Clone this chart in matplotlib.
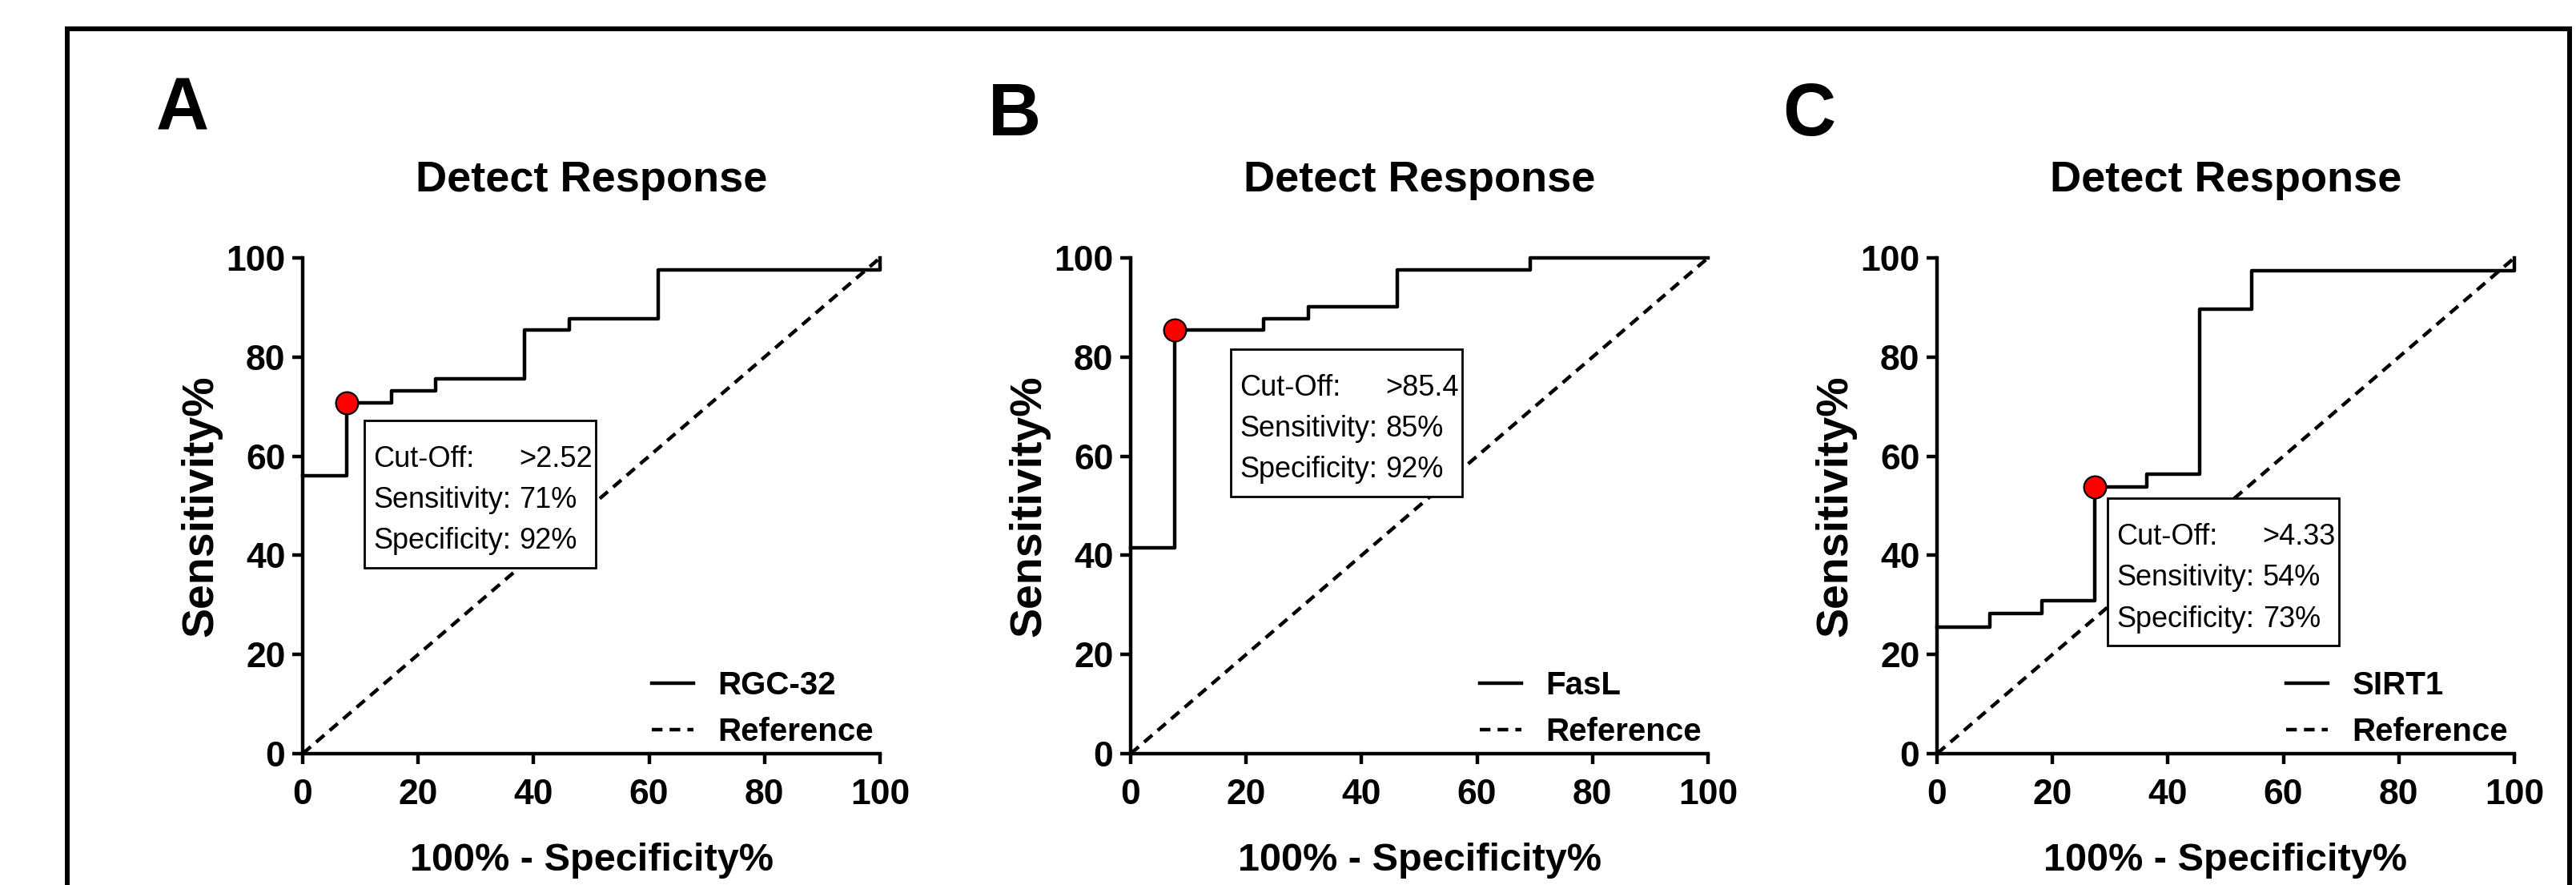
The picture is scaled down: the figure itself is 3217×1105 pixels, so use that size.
import matplotlib
matplotlib.use('Agg')
import matplotlib.pyplot as plt
from matplotlib.lines import Line2D
from matplotlib.patches import Rectangle
from matplotlib.font_manager import FontProperties

# Arial-metric font; sizes picked so text widths match the (condensed) original
font = 'Liberation Sans'

# ---- data ----
panel_letters = ['A', 'B', 'C']
marker_names = ['RGC-32', 'FasL', 'SIRT1']

# ROC corner points (100% - specificity, sensitivity), drawn as post-steps
fpr_rgc32 = [0, 7.69, 15.38, 23.08, 38.46, 46.15, 61.54, 100]
sens_rgc32 = [56.1, 70.7, 73.2, 75.6, 85.4, 87.8, 97.6, 100]
fpr_fasl = [0, 7.69, 23.08, 30.77, 46.15, 69.23, 100]
sens_fasl = [41.5, 85.4, 87.8, 90.2, 97.6, 100, 100]
fpr_sirt1 = [0, 9.09, 18.18, 27.27, 36.36, 45.45, 54.55, 100]
sens_sirt1 = [25.6, 28.2, 30.8, 53.8, 56.4, 89.7, 97.4, 100]

fpr_all = [fpr_rgc32, fpr_fasl, fpr_sirt1]
sens_all = [sens_rgc32, sens_fasl, sens_sirt1]

# cut-off points (red dots) and box texts
cutoff_fpr = [7.69, 7.69, 27.27]
cutoff_sens = [70.7, 85.4, 53.8]
cutoff_text = ['>2.52', '>85.4', '>4.33']
sens_text = ['71%', '85%', '54%']
spec_text = ['92%', '92%', '73%']

ref_line = [0, 100]
ticks = [0, 20, 40, 60, 80, 100]

# ---- layout (pixels of the 3217x1105 picture) ----
W, H = 3217, 1105
ax_left_px = [378, 1412, 2419]
ax_w_px, ax_h_px, ax_bottom_px = 721, 619, 941
box_topleft = [(10.7, 67.2), (17.4, 81.6), (29.6, 51.5)]
box_w, box_h = 40.0, 29.7
letter_px = [(195, 161), (1234, 169), (2226, 169)]
lw = 3.2

fig = plt.figure(figsize=(W / 100, H / 100), dpi=100)

# outer frame
lw_frame = 4.3
fx0, fx1, fy1 = 84 / W, 3209 / W, 1 - 36 / H
fig.add_artist(Line2D([fx0, fx0], [0, fy1], color='k', lw=lw_frame))
fig.add_artist(Line2D([fx0, fx1], [fy1, fy1], color='k', lw=lw_frame))
fig.add_artist(Line2D([fx1, fx1], [0, fy1], color='k', lw=lw_frame))

for i in range(3):
    ax = fig.add_axes([ax_left_px[i] / W, 1 - ax_bottom_px / H, ax_w_px / W, ax_h_px / H])

    ax.step(fpr_all[i], sens_all[i], where='post', color='k', lw=lw,
            clip_on=False, zorder=3, label=marker_names[i])
    ax.plot(ref_line, ref_line, color='k', lw=lw, ls=(0, (3.0, 2.0)),
            clip_on=False, zorder=2, label='Reference')
    ax.plot(cutoff_fpr[i], cutoff_sens[i], 'o', ms=20, mfc='red', mec='k',
            mew=1.6, clip_on=False, zorder=6)

    # annotation box
    bx, by = box_topleft[i]
    ax.add_patch(Rectangle((bx, by - box_h), box_w, box_h, facecolor='white',
                           edgecolor='k', lw=2.0, zorder=4))
    rows = [('Cut-Off:', cutoff_text[i]), ('Sensitivity:', sens_text[i]),
            ('Specificity:', spec_text[i])]
    for j, (lab, val) in enumerate(rows):
        yy = by - 9.4 - j * 8.25
        ax.text(bx + 1.5, yy, lab, fontsize=26, family=font, va='baseline', zorder=5)
        ax.text(bx + 26.8, yy, val, fontsize=26, family=font, va='baseline', zorder=5)

    ax.set_xlim(0, 100)
    ax.set_ylim(0, 100)
    ax.set_xticks(ticks)
    ax.set_yticks(ticks)
    for s in ['top', 'right']:
        ax.spines[s].set_visible(False)
    for s in ['left', 'bottom']:
        ax.spines[s].set_linewidth(lw)
    ax.tick_params(length=9.5, width=lw, labelsize=32)
    ax.tick_params(axis='x', pad=13)
    ax.tick_params(axis='y', pad=6)
    for lbl in ax.get_xticklabels() + ax.get_yticklabels():
        lbl.set_fontfamily(font)
        lbl.set_fontweight('bold')

    ax.set_title('Detect Response', fontsize=39, fontweight='bold', family=font, pad=60)
    ax.set_xlabel('100% - Specificity%', fontsize=35, fontweight='bold', family=font)
    ax.xaxis.set_label_coords(0.5, -0.18)
    ax.set_ylabel('Sensitivity%', fontsize=40, fontweight='bold', family=font)
    ax.yaxis.set_label_coords(-0.14, 0.5)

    ax.legend(loc='lower right', bbox_to_anchor=(1.0, 0.0), frameon=False,
              prop=FontProperties(family=font, weight='bold', size=29),
              handlelength=1.3, handletextpad=0.75, labelspacing=0.5,
              borderpad=0.2, borderaxespad=0)

    lx, ly = letter_px[i]
    fig.text(lx / W, 1 - ly / H, panel_letters[i], fontsize=66, fontweight='bold',
             family=font, va='baseline')

fig.savefig('out.png', dpi=100)
